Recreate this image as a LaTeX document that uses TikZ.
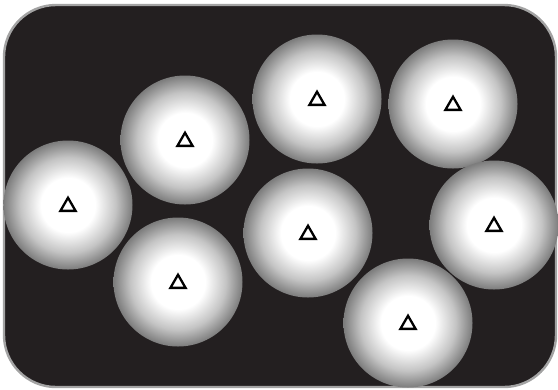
\documentclass[tikz,border=0pt]{standalone}
\usetikzlibrary{shapes.geometric}
\definecolor{panel}{HTML}{231F20}
\definecolor{rim}{HTML}{A3A3A3}
\definecolor{balledge}{HTML}{7C7C7C}
\definecolor{ballmid}{HTML}{C4C4C4}
\pgfdeclareradialshading{ballshade}{\pgfpoint{0bp}{0bp}}{%
  color(0bp)=(white); color(10.5bp)=(white); color(18.5bp)=(ballmid); color(25bp)=(balledge); color(50bp)=(balledge)}
\tikzset{
  ball/.style={circle, minimum size=129bp, inner sep=0pt, shading=ballshade},
  tri/.style={regular polygon, regular polygon sides=3, minimum size=17.5bp, inner sep=0pt, draw=black, line width=2.3bp, yshift=-1.5bp},
  frame/.style={fill=panel, draw=rim, line width=2.4bp, rounded corners=52bp}
}
\begin{document}
\begin{tikzpicture}[x=1bp,y=-1bp]
\useasboundingbox (0,0) rectangle (558,389);
\clip (0,0) rectangle (558,389);
\node[frame, minimum width=552bp, minimum height=382bp, inner sep=0pt] (panel) at (280,196) {};
\node[ball] (c1) at (68,205) {};
\node[ball] (c2) at (185,140) {};
\node[ball] (c3) at (178,282) {};
\node[ball] (c4) at (317,99) {};
\node[ball] (c5) at (453,104) {};
\node[ball] (c6) at (308,233) {};
\node[ball] (c7) at (494,225) {};
\node[ball] (c8) at (408,323) {};
\foreach \i in {1,...,8} {\node[tri] (t\i) at (c\i) {};}
\end{tikzpicture}
\end{document}
